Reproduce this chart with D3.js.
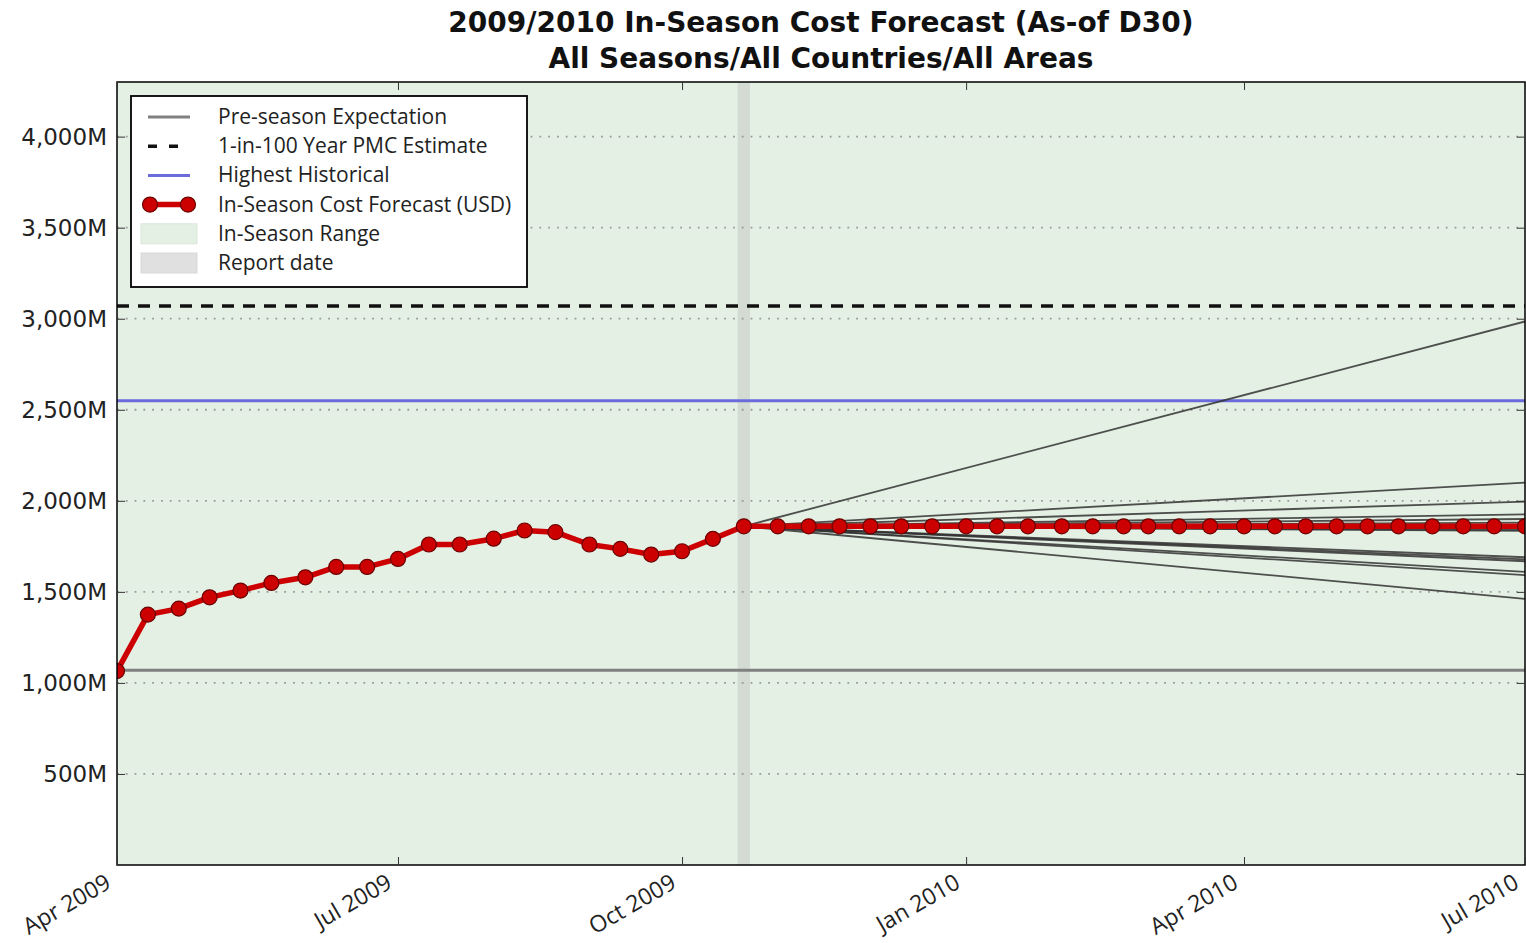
<!DOCTYPE html>
<html>
<head>
<meta charset="utf-8">
<script src="https://cdn.jsdelivr.net/npm/d3@7"></script>
<style>
  body { margin: 0; background: #fff; }
  svg { display: block; }
</style>
</head>
<body>
<div id="chart"></div>
<script>
const FRAME_WIDTH = 1526;
const FRAME_HEIGHT = 943;
const MARGINS = { left: 117, right: 1, top: 82, bottom: 78 };

// dekadal forecast dates and values (millions USD)
const forecastDates = [
  "2009-04-01", "2009-04-11", "2009-04-21", "2009-05-01", "2009-05-11", "2009-05-21",
  "2009-06-01", "2009-06-11", "2009-06-21", "2009-07-01", "2009-07-11", "2009-07-21",
  "2009-08-01", "2009-08-11", "2009-08-21", "2009-09-01", "2009-09-11", "2009-09-21",
  "2009-10-01", "2009-10-11", "2009-10-21", "2009-11-01", "2009-11-11", "2009-11-21",
  "2009-12-01", "2009-12-11", "2009-12-21", "2010-01-01", "2010-01-11", "2010-01-21",
  "2010-02-01", "2010-02-11", "2010-02-21", "2010-03-01", "2010-03-11", "2010-03-21",
  "2010-04-01", "2010-04-11", "2010-04-21", "2010-05-01", "2010-05-11", "2010-05-21",
  "2010-06-01", "2010-06-11", "2010-06-21", "2010-07-01"
];
const forecastValues = [
  1065, 1375, 1408, 1470, 1507, 1549,
  1580, 1637, 1637, 1681, 1760, 1760,
  1792, 1837, 1828, 1760, 1736, 1705,
  1723, 1791, 1860, 1860, 1860, 1860,
  1860, 1860, 1860, 1860, 1860, 1860,
  1860, 1860, 1860, 1860, 1860, 1860,
  1860, 1860, 1860, 1860, 1860, 1860,
  1860, 1860, 1860, 1860
];

// in-season scenario lines: start at report date, end at Jul 2010
const scenarioStart = "2009-10-21";
const scenarioEnd = "2010-07-01";
const scenarioStartValue = 1860;
const scenarioEndValues = [2985, 2100, 1995, 1925, 1900, 1880, 1868, 1840, 1835, 1690, 1678, 1668, 1610, 1592, 1462];

const preSeason = 1070;
const pmc100 = 3070;
const highestHistorical = 2550;

const seasonRange = ["2009-04-01", "2010-07-01"];
const reportRange = ["2009-10-19", "2009-10-23"];

const yTicks = [500, 1000, 1500, 2000, 2500, 3000, 3500, 4000];
const yMax = 4300;
const xTicks = ["2009-04-01", "2009-07-01", "2009-10-01", "2010-01-01", "2010-04-01", "2010-07-01"];

const titleLines = ["2009/2010 In-Season Cost Forecast (As-of D30)", "All Seasons/All Countries/All Areas"];
const legendLabels = ["Pre-season Expectation", "1-in-100 Year PMC Estimate", "Highest Historical",
  "In-Season Cost Forecast (USD)", "In-Season Range", "Report date"];

const parse = d3.timeParse("%Y-%m-%d");
const VIS_WIDTH = FRAME_WIDTH - MARGINS.left - MARGINS.right;
const VIS_HEIGHT = FRAME_HEIGHT - MARGINS.top - MARGINS.bottom;

const X_SCALE = d3.scaleTime()
    .domain([parse("2009-04-01"), parse("2010-07-01")])
    .range([MARGINS.left, MARGINS.left + VIS_WIDTH]);
const Y_SCALE = d3.scaleLinear()
    .domain([0, yMax])
    .range([MARGINS.top + VIS_HEIGHT, MARGINS.top]);

const FRAME = d3.select("#chart")
    .append("svg")
    .attr("width", FRAME_WIDTH)
    .attr("height", FRAME_HEIGHT);

FRAME.append("clipPath").attr("id", "clip")
  .append("rect")
    .attr("x", MARGINS.left).attr("y", MARGINS.top)
    .attr("width", VIS_WIDTH).attr("height", VIS_HEIGHT);

const plot = FRAME.append("g").attr("clip-path", "url(#clip)");

// in-season range
plot.append("rect")
    .attr("x", X_SCALE(parse(seasonRange[0])))
    .attr("width", X_SCALE(parse(seasonRange[1])) - X_SCALE(parse(seasonRange[0])))
    .attr("y", MARGINS.top).attr("height", VIS_HEIGHT)
    .attr("fill", "#e5f0e5");

// report date
plot.append("rect")
    .attr("x", X_SCALE(parse(reportRange[0])))
    .attr("width", X_SCALE(parse(reportRange[1])) - X_SCALE(parse(reportRange[0])))
    .attr("y", MARGINS.top).attr("height", VIS_HEIGHT)
    .attr("fill", "#d3dbd3");

// grid
plot.selectAll(".grid")
    .data(yTicks)
    .enter()
    .append("line")
    .attr("x1", MARGINS.left).attr("x2", MARGINS.left + VIS_WIDTH)
    .attr("y1", (d) => Y_SCALE(d)).attr("y2", (d) => Y_SCALE(d))
    .attr("stroke", "#999").attr("stroke-width", 1.8)
    .attr("stroke-dasharray", "1.8,7");

// reference lines
function hline(v, color, width, dash) {
  plot.append("line")
      .attr("x1", MARGINS.left).attr("x2", MARGINS.left + VIS_WIDTH)
      .attr("y1", Y_SCALE(v)).attr("y2", Y_SCALE(v))
      .attr("stroke", color).attr("stroke-width", width)
      .attr("stroke-dasharray", dash || null);
}
hline(preSeason, "#808080", 3);
hline(pmc100, "#111", 3.5, "12,9");
hline(highestHistorical, "#6b6bdc", 3);

// scenario fan
plot.selectAll(".scenario")
    .data(scenarioEndValues)
    .enter()
    .append("line")
    .attr("x1", X_SCALE(parse(scenarioStart))).attr("y1", Y_SCALE(scenarioStartValue))
    .attr("x2", X_SCALE(parse(scenarioEnd))).attr("y2", (d) => Y_SCALE(d))
    .attr("stroke", "#333").attr("stroke-width", 1.8).attr("stroke-opacity", 0.85);

// forecast line
const forecast = forecastDates.map((d, i) => ({ date: parse(d), value: forecastValues[i] }));
plot.append("path")
    .datum(forecast)
    .attr("fill", "none")
    .attr("stroke", "#cc0000")
    .attr("stroke-width", 5.5)
    .attr("stroke-linejoin", "round")
    .attr("d", d3.line().x((d) => X_SCALE(d.date)).y((d) => Y_SCALE(d.value)));

plot.selectAll(".point")
    .data(forecast)
    .enter()
    .append("circle")
    .attr("cx", (d) => X_SCALE(d.date))
    .attr("cy", (d) => Y_SCALE(d.value))
    .attr("r", 7.5)
    .attr("fill", "#cc0000")
    .attr("stroke", "#6a0000")
    .attr("stroke-width", 1.2);

// frame
FRAME.append("rect")
    .attr("x", MARGINS.left).attr("y", MARGINS.top)
    .attr("width", VIS_WIDTH).attr("height", VIS_HEIGHT)
    .attr("fill", "none").attr("stroke", "#000").attr("stroke-width", 1.5);

// y axis
const yAxis = FRAME.append("g")
    .attr("transform", "translate(" + MARGINS.left + ",0)")
    .call(d3.axisLeft(Y_SCALE).tickValues(yTicks).tickSizeInner(-8).tickSizeOuter(0).tickPadding(10)
      .tickFormat((d) => d3.format(",")(d) + "M"));
yAxis.select(".domain").remove();
yAxis.selectAll("line").attr("stroke", "#333");
yAxis.selectAll("text")
    .attr("font-family", "DejaVu Sans").attr("font-size", "23px").attr("fill", "#222");

const yAxisR = FRAME.append("g")
    .attr("transform", "translate(" + (MARGINS.left + VIS_WIDTH) + ",0)")
    .call(d3.axisRight(Y_SCALE).tickValues(yTicks).tickSizeInner(-8).tickSizeOuter(0).tickFormat(""));
yAxisR.select(".domain").remove();
yAxisR.selectAll("line").attr("stroke", "#333");

// x axis
const xAxis = FRAME.append("g")
    .attr("transform", "translate(0," + (MARGINS.top + VIS_HEIGHT) + ")")
    .call(d3.axisBottom(X_SCALE).tickValues(xTicks.map(parse)).tickSizeInner(-8).tickSizeOuter(0)
      .tickFormat(d3.timeFormat("%b %Y")));
xAxis.select(".domain").remove();
xAxis.selectAll("line").attr("stroke", "#333");
xAxis.selectAll("text")
    .attr("font-family", "Open Sans").attr("font-size", "23px").attr("fill", "#222")
    .attr("text-anchor", "end")
    .attr("y", 0).attr("dy", 0)
    .attr("transform", "translate(-5,22) rotate(-30)");

const xAxisT = FRAME.append("g")
    .attr("transform", "translate(0," + MARGINS.top + ")")
    .call(d3.axisTop(X_SCALE).tickValues(xTicks.map(parse)).tickSizeInner(-8).tickSizeOuter(0).tickFormat(""));
xAxisT.select(".domain").remove();
xAxisT.selectAll("line").attr("stroke", "#333");

// title
FRAME.selectAll(".title")
    .data(titleLines)
    .enter()
    .append("text")
    .attr("x", MARGINS.left + VIS_WIDTH / 2)
    .attr("y", (d, i) => 32 + i * 36)
    .attr("text-anchor", "middle")
    .attr("font-family", "DejaVu Sans").attr("font-weight", "bold")
    .attr("font-size", "28px").attr("fill", "#111")
    .text((d) => d);

// legend
const LEG = { x: 131, y: 96, w: 396, h: 191, row: 29.2, first: 21 };
const legend = FRAME.append("g");
legend.append("rect")
    .attr("x", LEG.x).attr("y", LEG.y).attr("width", LEG.w).attr("height", LEG.h)
    .attr("fill", "#fff").attr("stroke", "#000").attr("stroke-width", 1.8);

const rowY = (i) => LEG.y + LEG.first + i * LEG.row;
legend.append("line").attr("x1", 148).attr("x2", 190).attr("y1", rowY(0)).attr("y2", rowY(0))
    .attr("stroke", "#808080").attr("stroke-width", 3);
legend.append("line").attr("x1", 148).attr("x2", 190).attr("y1", rowY(1)).attr("y2", rowY(1))
    .attr("stroke", "#111").attr("stroke-width", 3.5).attr("stroke-dasharray", "9,12");
legend.append("line").attr("x1", 148).attr("x2", 190).attr("y1", rowY(2)).attr("y2", rowY(2))
    .attr("stroke", "#6b6bdc").attr("stroke-width", 3);
legend.append("line").attr("x1", 150).attr("x2", 188).attr("y1", rowY(3)).attr("y2", rowY(3))
    .attr("stroke", "#cc0000").attr("stroke-width", 5.5);
legend.selectAll(".lm")
    .data([150, 188])
    .enter()
    .append("circle")
    .attr("cx", (d) => d).attr("cy", rowY(3)).attr("r", 7.5)
    .attr("fill", "#cc0000").attr("stroke", "#6a0000").attr("stroke-width", 1.2);
legend.append("rect").attr("x", 141).attr("y", rowY(4) - 10).attr("width", 56).attr("height", 20)
    .attr("fill", "#e5f0e5").attr("stroke", "#d8e6d8");
legend.append("rect").attr("x", 141).attr("y", rowY(5) - 10).attr("width", 56).attr("height", 20)
    .attr("fill", "#e0e0e0").attr("stroke", "#d8d8d8");

legend.selectAll(".lt")
    .data(legendLabels)
    .enter()
    .append("text")
    .attr("x", 218)
    .attr("y", (d, i) => rowY(i) + 7)
    .attr("font-family", "Open Sans").attr("font-size", "21px").attr("fill", "#222")
    .text((d) => d);
</script>
</body>
</html>
